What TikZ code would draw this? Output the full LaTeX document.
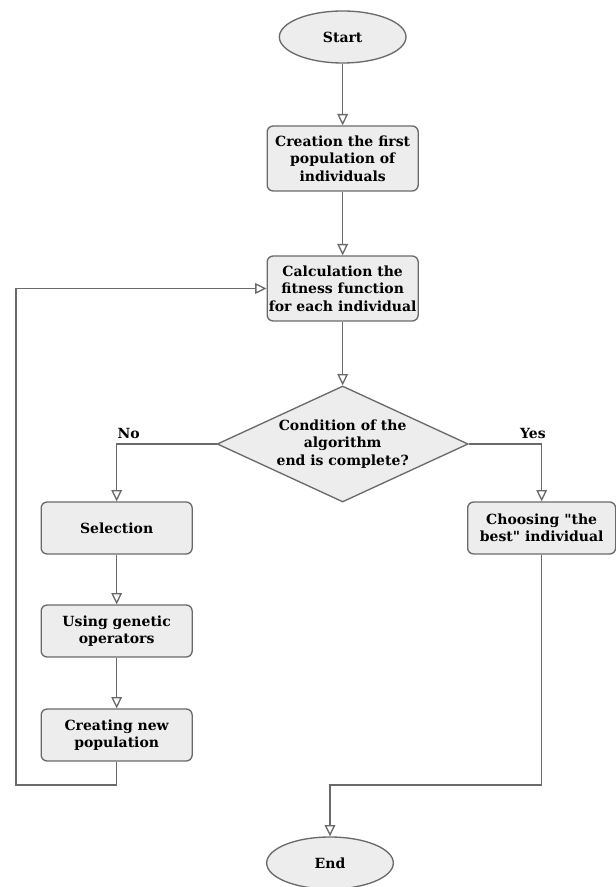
\documentclass[tikz,border=0pt]{standalone}
\usepackage{fontspec}
\setmainfont{DejaVu Serif}
\usetikzlibrary{positioning, arrows.meta, shapes.geometric, calc}

\definecolor{boxfill}{HTML}{EDEDED}
\definecolor{boxline}{HTML}{6A6A6A}

\begin{document}
\begin{tikzpicture}[
        font=\bfseries\fontsize{10.5}{13.1}\selectfont,
        node distance=47.75pt,
        term/.style={ellipse, draw=boxline, fill=boxfill, line width=1pt, minimum width=95pt, minimum height=39pt},
        proc/.style={rectangle, rounded corners=4.5pt, draw=boxline, fill=boxfill, line width=1pt, minimum width=113.25pt, minimum height=48.75pt, align=center, inner sep=1pt},
        stepbox/.style={proc, minimum height=39pt},
        dec/.style={diamond, draw=boxline, fill=boxfill, line width=1pt, aspect=2.16, inner sep=-3pt, minimum width=188.25pt, minimum height=87pt, align=center},
        arrow/.style={-{Triangle[open, fill=white, length=8.5pt, width=8pt]}, draw=boxline, line width=1pt}
    ]
    \useasboundingbox (0,0) rectangle (462pt,-665.25pt);

    % Main column
    \node[term] (start) at (257pt,-27.75pt) {Start};
    \node[proc, below=46.25pt of start] (first) {Creation the first\\population of\\individuals};
    \node[proc, below=of first] (fit) {Calculation the\\fitness function\\for each individual};
    \node[dec, below=of fit] (cond) {Condition of the\\algorithm\\end is complete?};

    % No branch
    \node[stepbox, below=-1pt of cond.south, xshift=-169.5pt] (sel) {Selection};
    \node[stepbox, below=37.25pt of sel] (oper) {Using genetic\\operators};
    \node[stepbox, below=38pt of oper] (newpop) {Creating new\\population};

    % Yes branch
    \node[stepbox, minimum width=111pt, below=-1pt of cond.south, xshift=149.25pt] (best) {Choosing \textquotedbl the\\best\textquotedbl{} individual};
    \node[term] (end) at (247.5pt,-647.25pt) {End};

    \coordinate (back) at (12pt,-588.75pt);

    % Connectors
    \draw[arrow] (start) -- (first);
    \draw[arrow] (first) -- (fit);
    \draw[arrow] (fit) -- (cond);
    \draw[arrow] (cond.west) -| (sel.north) node[pos=0.44, above] {No};
    \draw[arrow] (cond.east) -| (best.north) node[pos=0.44, above] {Yes};
    \draw[arrow] (sel) -- (oper);
    \draw[arrow] (oper) -- (newpop);
    \draw[arrow] (newpop.south) |- (back) |- (fit.west);
    \draw[arrow] (best.south) -- (best.south |- back) -| (end.north);

\end{tikzpicture}
\end{document}
